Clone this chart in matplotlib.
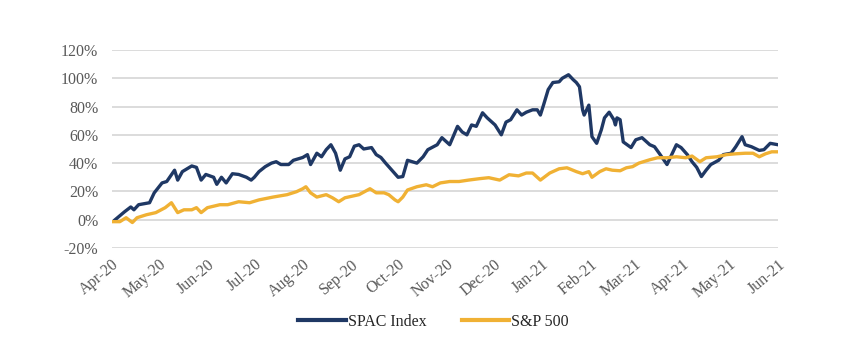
import matplotlib
matplotlib.use("Agg")
import matplotlib.pyplot as plt
import matplotlib.dates as mdates
import matplotlib.ticker as mticker
import pandas as pd

# SPAC index, cumulative return (%)
spac_dates = ["2020-04-03", "2020-04-09", "2020-04-13", "2020-04-15", "2020-04-18", "2020-04-25",
              "2020-04-28", "2020-05-03", "2020-05-06", "2020-05-11", "2020-05-13", "2020-05-16",
              "2020-05-22", "2020-05-25", "2020-05-28", "2020-05-31", "2020-06-05", "2020-06-07",
              "2020-06-10", "2020-06-13", "2020-06-17", "2020-06-21", "2020-06-26", "2020-06-29",
              "2020-07-01", "2020-07-04", "2020-07-08", "2020-07-12", "2020-07-15", "2020-07-18",
              "2020-07-23", "2020-07-26", "2020-08-01", "2020-08-04", "2020-08-06", "2020-08-10",
              "2020-08-13", "2020-08-16", "2020-08-19", "2020-08-22", "2020-08-25", "2020-08-28",
              "2020-08-31", "2020-09-03", "2020-09-06", "2020-09-09", "2020-09-14", "2020-09-17",
              "2020-09-20", "2020-09-23", "2020-09-27", "2020-10-01", "2020-10-04", "2020-10-07",
              "2020-10-10", "2020-10-13", "2020-10-17", "2020-10-20", "2020-10-26", "2020-10-29",
              "2020-11-01", "2020-11-03", "2020-11-08", "2020-11-11", "2020-11-14", "2020-11-17",
              "2020-11-20", "2020-11-24", "2020-11-27", "2020-12-02", "2020-12-06", "2020-12-09",
              "2020-12-12", "2020-12-16", "2020-12-19", "2020-12-22", "2020-12-26", "2020-12-29",
              "2020-12-31", "2021-01-02", "2021-01-05", "2021-01-08", "2021-01-12", "2021-01-14",
              "2021-01-18", "2021-01-21", "2021-01-23", "2021-01-25", "2021-01-27", "2021-01-28",
              "2021-01-31", "2021-02-02", "2021-02-05", "2021-02-08", "2021-02-10", "2021-02-13",
              "2021-02-16", "2021-02-17", "2021-02-18", "2021-02-20", "2021-02-22", "2021-02-27",
              "2021-03-02", "2021-03-06", "2021-03-11", "2021-03-14", "2021-03-17", "2021-03-22",
              "2021-03-25", "2021-03-28", "2021-03-31", "2021-04-04", "2021-04-07", "2021-04-10",
              "2021-04-13", "2021-04-16", "2021-04-19", "2021-04-24", "2021-04-27", "2021-05-02",
              "2021-05-05", "2021-05-09", "2021-05-11", "2021-05-15", "2021-05-20", "2021-05-23",
              "2021-05-27", "2021-06-01"]
spac_vals = [0, 5.6, 9, 7, 10.6, 12,
             19, 26, 27, 35, 28, 34,
             38, 37, 28, 32, 30, 25,
             30, 26, 32.5, 32, 30, 28,
             30, 34, 37.5, 40, 41, 39,
             39, 42, 44, 46, 39, 47,
             44.5, 49.5, 53, 47, 35, 43,
             44.5, 52, 53, 50, 51, 46,
             44, 40, 35, 30, 30.5, 42,
             41, 40, 44.5, 49.5, 53, 58,
             55, 53, 66, 62, 60, 67,
             66, 75.6, 72, 67, 60, 69,
             70.7, 77.7, 74, 76, 77.7, 77.7,
             74, 81, 92, 97, 97.5, 100,
             102.5, 99, 97, 94, 77.7, 74,
             81, 58.7, 54, 63.6, 72, 76,
             70.7, 67, 72, 70.7, 55, 51,
             56.5, 58, 53, 51.6, 47, 39,
             46, 53, 51, 46, 41, 37,
             30.5, 35, 39, 42, 46, 47,
             51.6, 58.7, 53, 51.6, 49, 49.5,
             54, 53]

# S&P 500, cumulative return (%)
sp_dates = ["2020-04-01", "2020-04-06", "2020-04-10", "2020-04-14", "2020-04-17", "2020-04-23",
            "2020-04-29", "2020-05-05", "2020-05-09", "2020-05-13", "2020-05-17", "2020-05-22",
            "2020-05-25", "2020-05-28", "2020-06-01", "2020-06-09", "2020-06-14", "2020-06-21",
            "2020-06-28", "2020-07-04", "2020-07-13", "2020-07-22", "2020-07-28", "2020-08-01",
            "2020-08-03", "2020-08-06", "2020-08-10", "2020-08-16", "2020-08-20", "2020-08-24",
            "2020-08-28", "2020-09-06", "2020-09-13", "2020-09-17", "2020-09-22", "2020-09-25",
            "2020-09-29", "2020-10-01", "2020-10-04", "2020-10-07", "2020-10-13", "2020-10-19",
            "2020-10-23", "2020-10-28", "2020-11-03", "2020-11-09", "2020-11-15", "2020-11-22",
            "2020-11-28", "2020-12-05", "2020-12-11", "2020-12-17", "2020-12-22", "2020-12-26",
            "2020-12-31", "2021-01-06", "2021-01-12", "2021-01-17", "2021-01-23", "2021-01-27",
            "2021-01-31", "2021-02-02", "2021-02-07", "2021-02-11", "2021-02-15", "2021-02-20",
            "2021-02-24", "2021-02-28", "2021-03-04", "2021-03-11", "2021-03-16", "2021-03-22",
            "2021-03-28", "2021-04-03", "2021-04-07", "2021-04-12", "2021-04-16", "2021-04-23",
            "2021-04-29", "2021-05-05", "2021-05-11", "2021-05-16", "2021-05-20", "2021-05-24",
            "2021-05-28", "2021-06-01"]
sp_vals = [-1.4, -1.4, 1.4, -2, 1.4, 3.5,
           5, 8.5, 12, 5, 7, 7,
           8.5, 5, 8.5, 10.6, 10.6, 12.7,
           12, 14, 16, 17.7, 19.8, 21.9,
           23.3, 19, 16, 17.7, 15.5, 12.7,
           15.5, 17.7, 21.9, 19, 19, 17.7,
           14, 12.7, 16, 21, 23.3, 24.7,
           23.3, 26, 27, 27, 28, 29,
           29.7, 28, 31.8, 31, 33, 33,
           28, 33, 36, 36.7, 34, 32.5,
           34, 30, 34, 36, 35, 34.6,
           36.7, 37.5, 40, 42.4, 43.8, 43.8,
           44.5, 43.8, 45, 41, 43.8, 44.5,
           46, 46.6, 47, 47, 44.5, 46.6,
           48, 48]

navy = "#1F3864"
gold = "#F0B134"
txt = "#595959"

plt.rcParams["font.family"] = ["Liberation Serif", "DejaVu Serif"]

fig = plt.figure(figsize=(8.5, 3.53), dpi=100)
ax = fig.add_axes([0.1318, 0.2975, 0.7835, 0.5609])

ax.plot(pd.to_datetime(spac_dates), [v / 100 for v in spac_vals], color=navy, lw=2.4,
        label="SPAC Index", solid_joinstyle="round")
ax.plot(pd.to_datetime(sp_dates), [v / 100 for v in sp_vals], color=gold, lw=2.4,
        label="S&P 500", solid_joinstyle="round")

ax.set_ylim(-0.2, 1.2)
ax.set_xlim(pd.Timestamp("2020-04-01"), pd.Timestamp("2021-06-01"))
ax.yaxis.set_major_locator(mticker.MultipleLocator(0.2))
ax.yaxis.set_major_formatter(mticker.FuncFormatter(lambda v, p: f"{v * 100:.0f}%"))
ax.xaxis.set_major_locator(mdates.MonthLocator())
ax.xaxis.set_major_formatter(mdates.DateFormatter("%b-%y"))

ax.grid(axis="y", color="#D9D9D9", lw=1.3)
ax.set_axisbelow(True)
for s in ax.spines.values():
    s.set_visible(False)
ax.tick_params(length=0, colors=txt, labelsize=11.5)
ax.tick_params(axis="y", pad=10)
ax.tick_params(axis="x", pad=6)
for lab in ax.get_xticklabels():
    lab.set_rotation(40)
    lab.set_ha("right")
    lab.set_rotation_mode("anchor")

fig.legend(loc="center", bbox_to_anchor=(0.51, 0.088), ncol=2, frameon=False,
           fontsize=11.5, handlelength=3.0, columnspacing=2.2, handletextpad=0.1,
           labelcolor="#262626")
for line in fig.legends[0].get_lines():
    line.set_linewidth(3)

fig.savefig("out.png", dpi=100)
